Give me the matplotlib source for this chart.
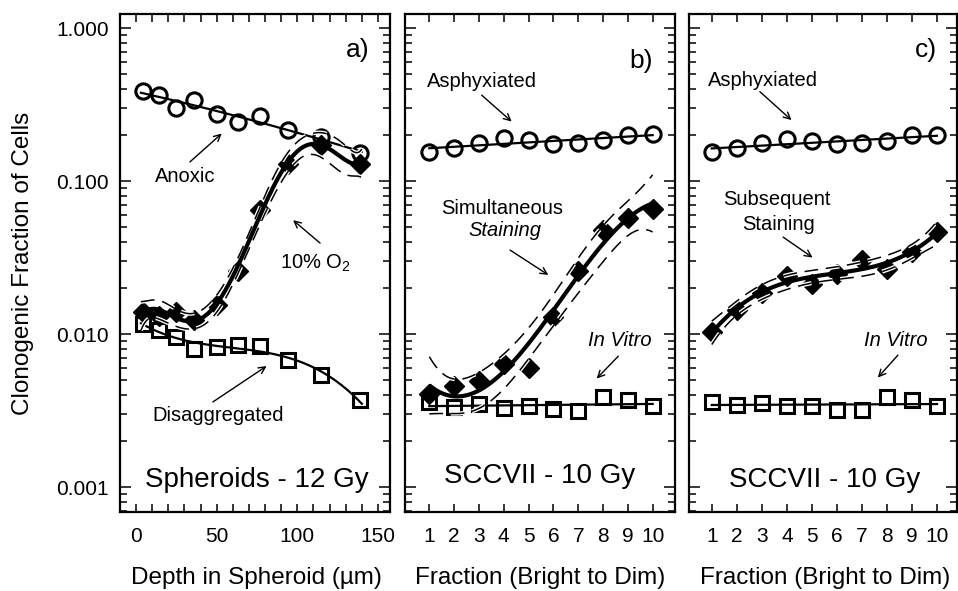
import numpy as np
import matplotlib
matplotlib.use('Agg')
import matplotlib.pyplot as plt
import matplotlib.patheffects as pe
from matplotlib.ticker import FixedLocator, LogLocator, NullFormatter, FixedFormatter

plt.rcParams['font.family'] = ['Liberation Sans', 'DejaVu Sans']
plt.rcParams['mathtext.fontset'] = 'custom'
plt.rcParams['mathtext.rm'] = 'Liberation Sans'
plt.rcParams['mathtext.it'] = 'Liberation Sans:italic'

# ---------------- data ----------------
depth = [4, 14, 25, 36, 50, 63, 77, 94, 115, 139]
anoxic = [0.39, 0.365, 0.30, 0.34, 0.277, 0.244, 0.266, 0.215, 0.195, 0.152]
o2_10 = [0.0140, 0.0131, 0.0140, 0.0124, 0.0155, 0.026, 0.065, 0.130, 0.172, 0.130]
disagg = [0.0117, 0.0106, 0.0096, 0.0080, 0.0083, 0.0085, 0.0084, 0.0068, 0.0054, 0.0037]

fraction = [1, 2, 3, 4, 5, 6, 7, 8, 9, 10]
asph_b = [0.155, 0.166, 0.178, 0.193, 0.187, 0.176, 0.178, 0.185, 0.200, 0.203]
simult_b = [0.00405, 0.00457, 0.00495, 0.0064, 0.0060, 0.013, 0.026, 0.048, 0.058, 0.066]
invitro_b = [0.0036, 0.00335, 0.0035, 0.0033, 0.0034, 0.00323, 0.00315, 0.0039, 0.00374, 0.0034]

asph_c = [0.155, 0.166, 0.178, 0.190, 0.183, 0.176, 0.178, 0.183, 0.200, 0.200]
subseq_c = [0.01035, 0.0145, 0.0186, 0.0239, 0.0214, 0.0249, 0.0305, 0.0269, 0.0345, 0.0467]
invitro_c = [0.00361, 0.00344, 0.00356, 0.00339, 0.00339, 0.00322, 0.00319, 0.0039, 0.00374, 0.0034]

ytick_vals = [0.001, 0.01, 0.1, 1.0]
ytick_labels = ['0.001', '0.010', '0.100', '1.000']
xticks_a = [0, 50, 100, 150]

# ---------------- helpers ----------------
def logfit(x, y, deg, xs, t=2.2):
    x = np.asarray(x, float)
    ly = np.log10(np.asarray(y, float))
    mu, sd = x.mean(), x.std()
    z = (x - mu) / sd
    zs = (xs - mu) / sd
    c, covu = np.polyfit(z, ly, deg, cov='unscaled')
    res = ly - np.polyval(c, z)
    s2 = np.sum(res ** 2) / (len(x) - deg - 1)
    V = np.vander(zs, deg + 1)
    se = np.sqrt(s2 * np.einsum('ij,jk,ik->i', V, covu, V))
    fit = np.polyval(c, zs)
    return 10 ** fit, 10 ** (fit - t * se), 10 ** (fit + t * se)

W, H = 958, 591
fig = plt.figure(figsize=(W / 100, H / 100), dpi=100)

def px_axes(x0, x1, y0=14, y1=512):
    return fig.add_axes([x0 / W, 1 - y1 / H, (x1 - x0) / W, (y1 - y0) / H])

axa = px_axes(120, 390)
axb = px_axes(405, 675)
axc = px_axes(689, 956.5)

open_kw = dict(ls='none', mfc='none', mec='black', mew=2.2, zorder=4)
diam_kw = dict(ls='none', marker='D', ms=10.5, mfc='black', mec='black', zorder=3)
dash_fx = [pe.Stroke(linewidth=3.0, foreground='white'), pe.Normal()]

def thin_fit(ax, x, y, deg, xs):
    f, lo, hi = logfit(x, y, deg, xs)
    ax.plot(xs, f, color='black', lw=1.6, zorder=3)

def bold_fit(ax, x, y, deg, xs):
    f, lo, hi = logfit(x, y, deg, xs)
    for b in (lo, hi):
        ax.plot(xs, b, color='black', lw=1.1, ls=(0, (9, 5)), zorder=5,
                path_effects=dash_fx)
    ax.plot(xs, f, color='black', lw=3.0, zorder=6, solid_capstyle='butt')

# ---- panel a ----
xs_a = np.linspace(3, 140, 300)
axa.plot(depth, anoxic, marker='o', ms=11, **open_kw)
thin_fit(axa, depth, anoxic, 2, xs_a)
axa.plot(depth, disagg, marker='s', ms=10, **open_kw)
thin_fit(axa, depth, disagg, 3, xs_a)
axa.plot(depth, o2_10, **diam_kw)
bold_fit(axa, depth, o2_10, 5, xs_a)

# ---- panel b ----
xs_f = np.linspace(1, 10, 300)
axb.plot(fraction, asph_b, marker='o', ms=11, **open_kw)
thin_fit(axb, fraction, asph_b, 1, xs_f)
axb.plot(fraction, invitro_b, marker='s', ms=10, **open_kw)
thin_fit(axb, fraction, invitro_b, 1, xs_f)
axb.plot(fraction, simult_b, **diam_kw)
bold_fit(axb, fraction, simult_b, 3, xs_f)

# ---- panel c ----
axc.plot(fraction, asph_c, marker='o', ms=11, **open_kw)
thin_fit(axc, fraction, asph_c, 1, xs_f)
axc.plot(fraction, invitro_c, marker='s', ms=10, **open_kw)
thin_fit(axc, fraction, invitro_c, 1, xs_f)
axc.plot(fraction, subseq_c, **diam_kw)
bold_fit(axc, fraction, subseq_c, 3, xs_f)

# ---- axes styling ----
for ax in (axa, axb, axc):
    ax.set_yscale('log')
    ax.set_ylim(0.00069, 1.24)
    for s in ax.spines.values():
        s.set_linewidth(1.6)
    ax.yaxis.set_major_locator(FixedLocator(ytick_vals))
    ax.yaxis.set_minor_locator(LogLocator(base=10, subs=np.arange(2, 10)))
    ax.yaxis.set_minor_formatter(NullFormatter())
    ax.tick_params(axis='both', which='both', direction='in', top=True, right=True,
                   width=1.1, labelsize=15)
    ax.tick_params(axis='y', which='major', length=8, pad=8)
    ax.tick_params(axis='y', which='minor', length=5)
    ax.tick_params(axis='x', which='both', length=6, pad=11)

axa.set_xlim(-10, 157.5)
axa.xaxis.set_major_locator(FixedLocator(xticks_a))
axa.xaxis.set_minor_locator(FixedLocator(np.arange(0, 151, 10)))
axa.yaxis.set_major_formatter(FixedFormatter(ytick_labels))

for ax, xl in ((axb, (0.02, 10.9)), (axc, (0.09, 10.78))):
    ax.set_xlim(*xl)
    ax.xaxis.set_major_locator(FixedLocator(fraction))
    ax.tick_params(axis='y', which='both', labelleft=False)

# ---- annotations ----
arrow = dict(arrowstyle='->', lw=1.0, color='black', shrinkA=0, shrinkB=0,
             mutation_scale=12)
afs = 14.5

def ann(ax, head, tail):
    ax.annotate('', xy=head, xytext=tail, xycoords='axes fraction',
                textcoords='axes fraction', arrowprops=arrow)

def txt(ax, pos, s, size=afs, style='normal'):
    ax.text(pos[0], pos[1], s, transform=ax.transAxes, ha='center', va='center',
            fontsize=size, style=style)

# panel a
txt(axa, (0.241, 0.673), 'Anoxic')
ann(axa, (0.377, 0.760), (0.259, 0.703))
txt(axa, (0.725, 0.500), '10% O$_2$')
ann(axa, (0.641, 0.586), (0.741, 0.540))
txt(axa, (0.363, 0.193), 'Disaggregated')
ann(axa, (0.543, 0.293), (0.344, 0.221))
txt(axa, (0.880, 0.928), 'a)', size=19)
txt(axa, (0.506, 0.064), 'Spheroids - 12 Gy', size=20)

# panel b
txt(axb, (0.284, 0.864), 'Asphyxiated')
ann(axb, (0.395, 0.784), (0.284, 0.837))
txt(axb, (0.358, 0.610), 'Simultaneous')
txt(axb, (0.370, 0.566), 'Staining', style='italic')
ann(axb, (0.531, 0.476), (0.389, 0.526))
txt(axb, (0.796, 0.345), 'In Vitro', style='italic')
ann(axb, (0.710, 0.268), (0.790, 0.313))
txt(axb, (0.876, 0.906), 'b)', size=19)
txt(axb, (0.497, 0.072), 'SCCVII - 10 Gy', size=20)

# panel c
txt(axc, (0.277, 0.867), 'Asphyxiated')
ann(axc, (0.383, 0.787), (0.265, 0.844))
txt(axc, (0.328, 0.628), 'Subsequent')
txt(axc, (0.333, 0.578), 'Staining')
ann(axc, (0.462, 0.511), (0.352, 0.552))
txt(axc, (0.775, 0.345), 'In Vitro', style='italic')
ann(axc, (0.706, 0.270), (0.781, 0.315))
txt(axc, (0.884, 0.928), 'c)', size=19)
txt(axc, (0.507, 0.064), 'SCCVII - 10 Gy', size=20)

# axis labels
lfs = 17.5
fig.text(256.7 / W, 1 - 578 / H, 'Depth in Spheroid (\u00b5m)', ha='center', va='center', fontsize=lfs)
fig.text(540 / W, 1 - 578 / H, 'Fraction (Bright to Dim)', ha='center', va='center', fontsize=lfs)
fig.text(825 / W, 1 - 578 / H, 'Fraction (Bright to Dim)', ha='center', va='center', fontsize=lfs)
fig.text(23 / W, 1 - 263 / H, 'Clonogenic Fraction of Cells', ha='center', va='center',
         rotation=90, fontsize=lfs)

fig.savefig('out.png', dpi=100)
